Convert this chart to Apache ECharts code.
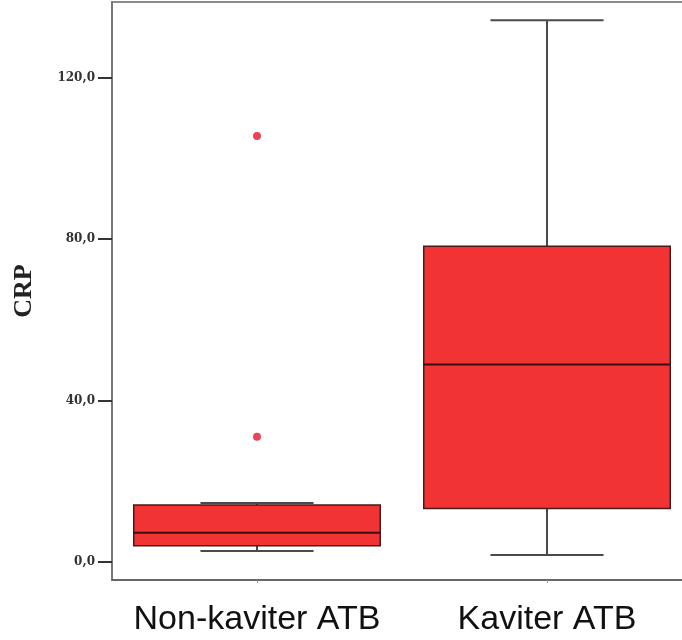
<!DOCTYPE html>
<html>
<head>
<meta charset="utf-8">
<script src="https://cdn.jsdelivr.net/npm/echarts@6/dist/echarts.min.js"></script>
<style>html,body{margin:0;padding:0;background:#fff;overflow:hidden}#c{width:692px;height:640px}</style>
</head>
<body>
<div id="c"></div>
<script>
const categories = ['Non-kaviter ATB', 'Kaviter ATB'];
const whiskerLow = [2.7, 1.7];
const q1 = [4.0, 13.2];
const median = [7.2, 48.9];
const q3 = [14.1, 78.2];
const whiskerHigh = [14.6, 134.2];
const outlierCategory = [0, 0];
const outlierValue = [105.5, 31.0];
const yTicks = [0, 40, 80, 120];

const boxData = categories.map((c, i) => [i, whiskerLow[i], q1[i], median[i], q3[i], whiskerHigh[i]]);
const outlierData = outlierCategory.map((c, i) => [c, outlierValue[i]]);

const chart = echarts.init(document.getElementById('c'));
chart.setOption({
  animation: false,
  grid: { left: 112, top: 2, right: 0, bottom: 60, show: true, borderColor: '#8a8a8a', borderWidth: 2, backgroundColor: 'transparent' },
  xAxis: {
    type: 'category',
    data: categories,
    axisLine: { show: true, onZero: false, lineStyle: { color: '#666', width: 2 } },
    axisTick: { show: true, alignWithLabel: true, length: 3, lineStyle: { color: '#999' } },
    axisLabel: { interval: 0, color: '#111', fontFamily: 'Liberation Sans', fontSize: 34, margin: 23 },
    splitLine: { show: false }
  },
  yAxis: {
    type: 'value',
    min: -4.5,
    max: 138.7,
    name: 'CRP',
    nameLocation: 'middle',
    nameGap: 75,
    nameRotate: 90,
    nameTextStyle: { fontFamily: 'Liberation Serif', fontWeight: 'bold', fontSize: 26, color: '#222' },
    axisLine: { show: true, onZero: false, lineStyle: { color: '#777', width: 2 } },
    axisTick: { show: true, length: 14, customValues: yTicks, lineStyle: { color: '#333', width: 2 } },
    axisLabel: { customValues: yTicks, color: '#333', fontFamily: 'DejaVu Serif', fontWeight: 'bold', fontSize: 12, margin: 17,
      formatter: v => v.toFixed(1).replace('.', ',') },
    splitLine: { show: false }
  },
  series: [
    {
      type: 'custom',
      data: boxData,
      encode: { x: 0, y: [1, 2, 3, 4, 5] },
      renderItem: function (params, api) {
        const x = api.value(0);
        const band = api.size([1, 0])[0];
        const boxW = band * 0.85;
        const capW = band * 0.39;
        const pLow = api.coord([x, api.value(1)]);
        const pQ1 = api.coord([x, api.value(2)]);
        const pMed = api.coord([x, api.value(3)]);
        const pQ3 = api.coord([x, api.value(4)]);
        const pHigh = api.coord([x, api.value(5)]);
        const cx = pMed[0];
        const wStyle = { stroke: '#4a4a4a', lineWidth: 2 };
        return {
          type: 'group',
          children: [
            { type: 'line', shape: { x1: cx, y1: pHigh[1], x2: cx, y2: pQ3[1] }, style: wStyle },
            { type: 'line', shape: { x1: cx, y1: pQ1[1], x2: cx, y2: pLow[1] }, style: wStyle },
            { type: 'line', shape: { x1: cx - capW / 2, y1: pHigh[1], x2: cx + capW / 2, y2: pHigh[1] }, style: wStyle },
            { type: 'line', shape: { x1: cx - capW / 2, y1: pLow[1], x2: cx + capW / 2, y2: pLow[1] }, style: wStyle },
            { type: 'rect', shape: { x: cx - boxW / 2, y: pQ3[1], width: boxW, height: pQ1[1] - pQ3[1] },
              style: { fill: '#f23333', stroke: '#4a1a1a', lineWidth: 1.5 } },
            { type: 'line', shape: { x1: cx - boxW / 2, y1: pMed[1], x2: cx + boxW / 2, y2: pMed[1] },
              style: { stroke: '#3a0e0e', lineWidth: 2 } }
          ]
        };
      }
    },
    {
      type: 'scatter',
      data: outlierData,
      symbol: 'circle',
      symbolSize: 8,
      itemStyle: { color: '#e4152e' }
    }
  ]
});
</script>
</body>
</html>
